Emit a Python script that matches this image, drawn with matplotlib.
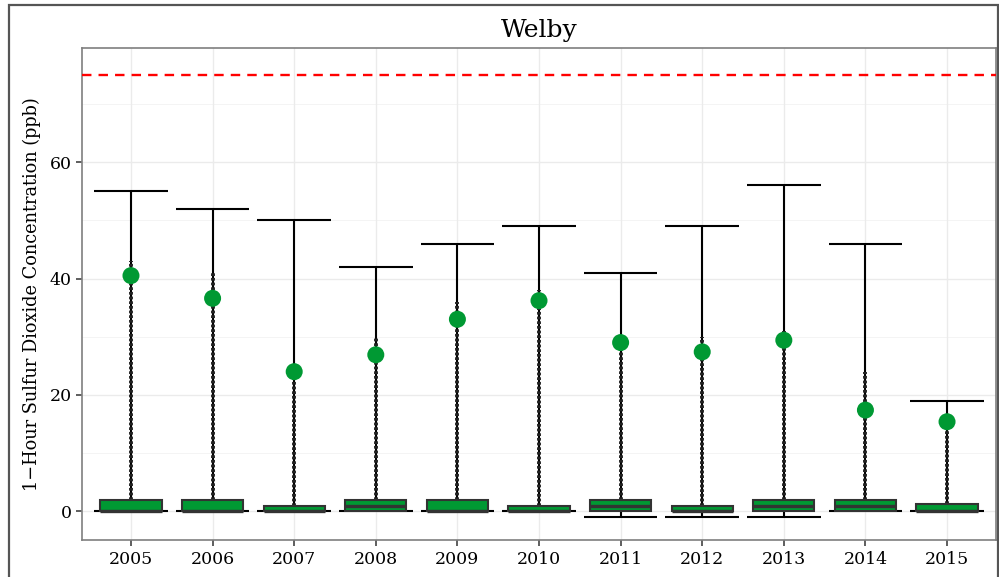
import numpy as np
import matplotlib.pyplot as plt
from matplotlib.patches import Rectangle

years = ['2005', '2006', '2007', '2008', '2009', '2010', '2011', '2012', '2013', '2014', '2015']
y_max = [55, 52, 50, 42, 46, 49, 41, 49, 56, 46, 19]
y_min = [0, 0, 0, 0, 0, 0, -1, -1, -1, 0, 0]
q1 = [0, 0, 0, 0, 0, 0, 0, 0, 0, 0, 0]
med = [0, 0, 0, 1, 0, 0, 1, 0, 1, 1, 0]
q3 = [2, 2, 1, 2, 2, 1, 2, 1, 2, 2, 1.2]
p99 = [40.5, 36.6, 24, 26.9, 33, 36.2, 29, 27.4, 29.4, 17.4, 15.4]
outlier_top = [43, 41, 25, 30, 36, 38, 30, 30, 31, 24, 16]
standard = 75

green = '#009933'
dark = '#333333'

plt.rcParams['font.family'] = ['DejaVu Serif']

fig = plt.figure(figsize=(9.99, 5.77), dpi=100)
ax = fig.add_axes([0.0821, 0.0633, 0.9149, 0.8535])

x = np.arange(1, len(years) + 1)

# grid, ggplot theme_bw style
for v in [10, 30, 50, 70]:
    ax.axhline(v, color='#f2f2f2', lw=0.6, zorder=0)
for v in [0, 20, 40, 60]:
    ax.axhline(v, color='#ebebeb', lw=1.0, zorder=0)
for xi in x:
    ax.axvline(xi, color='#ebebeb', lw=1.0, zorder=0)

# min-max error bars with caps
ax.vlines(x, y_min, y_max, color='black', lw=1.5, zorder=2)
ax.hlines(y_max, x - 0.45, x + 0.45, color='black', lw=1.5, zorder=2)
ax.hlines(y_min, x - 0.45, x + 0.45, color='black', lw=1.5, zorder=2)

# stacked outlier points along the whisker
for xi, a, b in zip(x, q3, outlier_top):
    ax.plot([xi, xi], [a, b], color='#222222', lw=2.8, ls=(0, (0.7, 0.5)), zorder=2)

# boxes
bw = 0.75
for xi, lo, m, hi in zip(x, q1, med, q3):
    ax.add_patch(Rectangle((xi - bw / 2, lo), bw, hi - lo, facecolor=green,
                           edgecolor=dark, lw=1.5, zorder=3))
    ax.hlines(m, xi - bw / 2, xi + bw / 2, color=dark, lw=2.4, zorder=4)

ax.scatter(x, p99, s=150, color=green, zorder=5, edgecolors='none')

ax.axhline(standard, color='red', lw=1.7, ls=(0, (4, 3)), zorder=4)

ax.set_xlim(0.4, 11.6)
ax.set_ylim(-5, 79.6)
ax.set_xticks(x)
ax.set_xticklabels(years)
ax.set_yticks([0, 20, 40, 60])
ax.tick_params(labelsize=12.5, color=dark, length=4, width=1.1, labelcolor='black')
for s in ax.spines.values():
    s.set_color('#7f7f7f')
    s.set_linewidth(1.2)

ax.set_ylabel('1\u2212Hour Sulfur Dioxide Concentration (ppb)', fontsize=12.8, labelpad=6)
ax.set_title('Welby', fontsize=18, pad=8)

# outer plot border
fig.patches.append(Rectangle((9 / 999, -0.1), 989 / 999, 1.1 - 5 / 577,
                             transform=fig.transFigure, fill=False,
                             edgecolor='#555555', lw=1.6))

fig.savefig('out.png', dpi=100)
